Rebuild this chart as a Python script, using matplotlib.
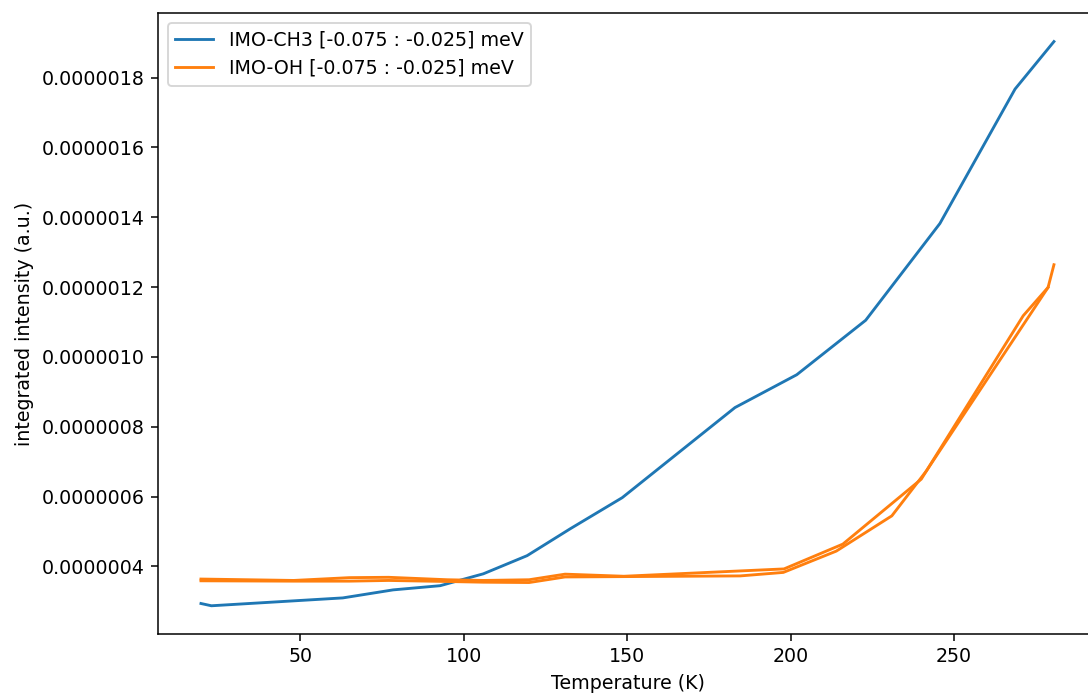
import matplotlib
matplotlib.use("Agg")
import matplotlib.pyplot as plt
from matplotlib.ticker import FormatStrFormatter, MultipleLocator

# IMO-CH3, one run
temp_ch3 = [19.6, 22.8, 63, 78.4, 92.8, 106, 119.4, 132.6, 148.5, 183, 201.9, 223, 245.7, 268.7, 280.6]
int_ch3 = [2.94e-7, 2.875e-7, 3.10e-7, 3.33e-7, 3.45e-7, 3.79e-7, 4.31e-7, 5.08e-7, 5.97e-7,
           8.55e-7, 9.49e-7, 1.105e-6, 1.382e-6, 1.767e-6, 1.903e-6]

# IMO-OH, two runs drawn in the same colour
temp_oh_a = [19.6, 48, 65, 77, 95, 106, 120, 131, 149, 184, 198, 216, 240, 271.2, 278.8, 280.6]
int_oh_a = [3.64e-7, 3.60e-7, 3.68e-7, 3.69e-7, 3.62e-7, 3.60e-7, 3.62e-7, 3.78e-7, 3.72e-7,
            3.87e-7, 3.93e-7, 4.64e-7, 6.50e-7, 1.118e-6, 1.199e-6, 1.264e-6]
temp_oh_b = [19.6, 48, 65, 77, 95, 106, 120, 131, 149, 184.6, 197.8, 214, 231, 241.6, 278.8]
int_oh_b = [3.59e-7, 3.58e-7, 3.58e-7, 3.60e-7, 3.57e-7, 3.55e-7, 3.54e-7, 3.70e-7, 3.71e-7,
            3.73e-7, 3.83e-7, 4.44e-7, 5.45e-7, 6.74e-7, 1.199e-6]

label = "[-0.075 : -0.025] meV"

fig = plt.figure(figsize=(1088 / 137, 695 / 137), dpi=137)
ax = fig.add_axes([0.1455, 0.0878, 0.8624, 0.893])

ax.plot(temp_ch3, int_ch3, color="#1f77b4", label="IMO-CH3 " + label)
ax.plot(temp_oh_a, int_oh_a, color="#ff7f0e", label="IMO-OH " + label)
ax.plot(temp_oh_b, int_oh_b, color="#ff7f0e")

ax.yaxis.set_major_locator(MultipleLocator(2e-7))
ax.yaxis.set_major_formatter(FormatStrFormatter("%.7f"))
ax.set_xlabel("Temperature (K)")
ax.set_ylabel("integrated intensity (a.u.)")
ax.legend(loc="upper left")

fig.savefig("out.png", dpi=137)
